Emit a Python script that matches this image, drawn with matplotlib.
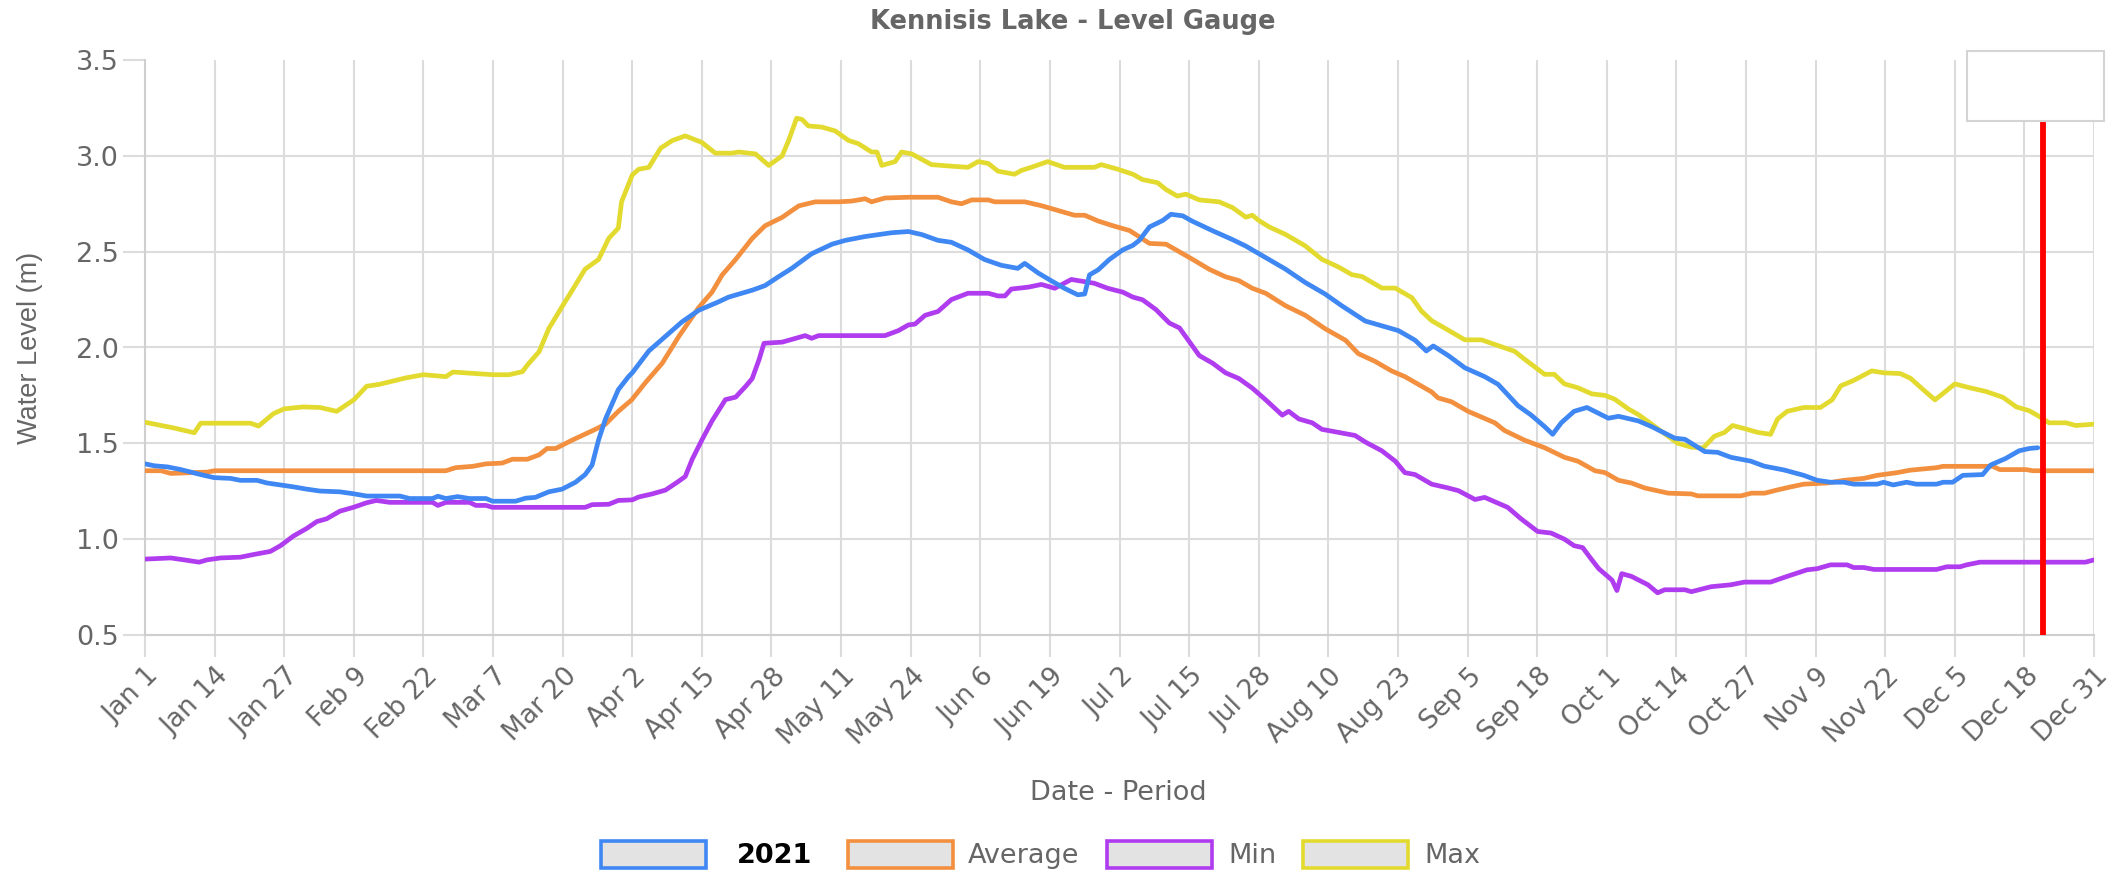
import matplotlib
matplotlib.use("Agg")
import matplotlib.pyplot as plt
import matplotlib.transforms as mtransforms
from matplotlib.patches import Rectangle
import numpy as np
import datetime as dt

# ---------------- data (day offset from Jan 1, water level in m) ----------------
tick_labels = ["Jan 1", "Jan 14", "Jan 27", "Feb 9", "Feb 22", "Mar 7", "Mar 20",
               "Apr 2", "Apr 15", "Apr 28", "May 11", "May 24", "Jun 6", "Jun 19",
               "Jul 2", "Jul 15", "Jul 28", "Aug 10", "Aug 23", "Sep 5", "Sep 18",
               "Oct 1", "Oct 14", "Oct 27", "Nov 9", "Nov 22", "Dec 5", "Dec 18",
               "Dec 31"]
y_ticks = [0.5, 1.0, 1.5, 2.0, 2.5, 3.0, 3.5]

max_day = [0, 5.4, 8.5, 9.2, 10.4, 13, 19.7, 21.2, 24, 26, 29.6, 32.7, 35.8, 39,
           41.4, 43.8, 48.8, 52, 56.2, 57.5, 65, 68, 70.5, 71.4, 73.6, 75.4, 78,
           79.8, 82.2, 84.7, 86.6, 88.4, 89, 91, 92.2, 94.1, 96.3, 98.5, 100.9,
           104, 106.5, 109.6, 110.9, 114, 116.5, 119, 120.2, 121.7, 122.7, 123.9,
           126.4, 128.9, 131.4, 133.2, 135.7, 136.7, 137.6, 140.1, 141.3, 143.2,
           146.9, 150.6, 153.7, 155.6, 157.5, 159.3, 162.4, 163.7, 165.5, 168.6,
           171.7, 177.3, 178.6, 181.7, 184.5, 186.3, 189.1, 190.7, 192.8, 194.4,
           196.9, 200.6, 203.1, 205.6, 206.8, 208, 209.9, 213, 216.7, 219.8,
           222.9, 225.4, 227.3, 231, 233.5, 236.6, 238.4, 240.3, 242.8, 246.5,
           249.6, 252.7, 255.8, 257.6, 259.5, 261.4, 263.2, 265.1, 267.6, 270.2,
           272.7, 274.5, 277, 278.9, 281.4, 283.8, 286.3, 288.8, 291, 293.1, 295,
           296.5, 298.7, 301.2, 303.6, 304.9, 306.7, 309.8, 312.9, 315.1, 316.7,
           319.1, 322.5, 324.7, 327.8, 329.7, 332.1, 334.3, 335.8, 338, 340.8,
           343.9, 347, 349.5, 351.9, 353.8, 355.6, 358.8, 360.6, 364]
max_val = [1.61, 1.58, 1.56, 1.555, 1.605, 1.605, 1.605, 1.59, 1.655, 1.68, 1.69,
           1.687, 1.667, 1.727, 1.798, 1.808, 1.842, 1.858, 1.848, 1.872, 1.858,
           1.858, 1.874, 1.908, 1.978, 2.098, 2.218, 2.299, 2.409, 2.459, 2.569,
           2.623, 2.76, 2.9, 2.93, 2.94, 3.04, 3.08, 3.104, 3.07, 3.014, 3.014,
           3.02, 3.01, 2.95, 3.0, 3.08, 3.196, 3.19, 3.156, 3.15, 3.13, 3.08,
           3.064, 3.02, 3.02, 2.95, 2.97, 3.02, 3.01, 2.954, 2.946, 2.94, 2.97,
           2.96, 2.92, 2.904, 2.924, 2.94, 2.97, 2.94, 2.94, 2.954, 2.93, 2.904,
           2.876, 2.86, 2.824, 2.79, 2.80, 2.77, 2.76, 2.73, 2.68, 2.69, 2.663,
           2.63, 2.59, 2.53, 2.46, 2.42, 2.38, 2.37, 2.31, 2.31, 2.26, 2.19, 2.14,
           2.10, 2.04, 2.04, 2.01, 1.98, 1.94, 1.90, 1.86, 1.86, 1.81, 1.79, 1.758,
           1.75, 1.73, 1.68, 1.65, 1.60, 1.55, 1.50, 1.48, 1.476, 1.537, 1.557,
           1.593, 1.577, 1.557, 1.547, 1.627, 1.667, 1.687, 1.687, 1.727, 1.80,
           1.828, 1.878, 1.868, 1.864, 1.84, 1.78, 1.727, 1.76, 1.81, 1.79, 1.77,
           1.74, 1.69, 1.67, 1.64, 1.607, 1.607, 1.593, 1.60]

avg_day = [0, 3, 4.8, 11.6, 13, 56.2, 58, 61.2, 63.7, 66.7, 68.6, 71.4, 73.6, 75.1,
           76.7, 79.8, 84.1, 86, 88.4, 90.9, 93.5, 96.6, 99.7, 103.4, 105.9,
           107.8, 110.3, 113.4, 115.8, 119, 122.1, 125.2, 129.5, 132, 134.5, 135.7,
           138.2, 142.6, 148.1, 150.6, 152.5, 154.4, 157.5, 158.7, 164.3, 167.4,
           170.5, 173.6, 175.5, 178, 180.8, 183.9, 187.6, 190.7, 193.2, 195.7,
           198.7, 201.8, 204.3, 206.8, 209.3, 213, 216.7, 220.4, 224.2, 226.6,
           229.7, 232.8, 235.3, 237.8, 240.3, 241.5, 244, 247.1, 249.6, 252.1,
           253.9, 257.6, 261.4, 265.1, 267.6, 270.8, 272.7, 275.2, 277.6, 280.1,
           284.5, 288.8, 290, 298.1, 300, 302.5, 304.9, 307.4, 309.8, 314.2, 317.3,
           321, 323.5, 327.2, 329.7, 334.6, 335.8, 345.1, 346.4, 351.3, 352.6, 364]
avg_val = [1.357, 1.357, 1.343, 1.35, 1.357, 1.357, 1.373, 1.38, 1.393, 1.397,
           1.417, 1.417, 1.44, 1.473, 1.473, 1.517, 1.573, 1.60, 1.667, 1.727,
           1.818, 1.918, 2.058, 2.208, 2.289, 2.379, 2.459, 2.569, 2.635, 2.679,
           2.739, 2.76, 2.76, 2.764, 2.776, 2.76, 2.78, 2.784, 2.784, 2.76, 2.75,
           2.77, 2.77, 2.76, 2.76, 2.74, 2.715, 2.69, 2.69, 2.66, 2.635, 2.61,
           2.543, 2.539, 2.499, 2.459, 2.409, 2.369, 2.349, 2.309, 2.283, 2.218,
           2.168, 2.098, 2.038, 1.968, 1.928, 1.878, 1.848, 1.808, 1.768, 1.737,
           1.717, 1.667, 1.637, 1.607, 1.567, 1.517, 1.477, 1.427, 1.407, 1.357,
           1.347, 1.307, 1.293, 1.267, 1.24, 1.236, 1.226, 1.226, 1.24, 1.24,
           1.257, 1.273, 1.287, 1.293, 1.307, 1.317, 1.333, 1.347, 1.36, 1.373,
           1.38, 1.38, 1.363, 1.363, 1.357, 1.357]

min_day = [0, 4.8, 7.3, 10.1, 11.6, 14.1, 17.8, 20.3, 23.4, 25.3, 27.7, 30.2, 32.1,
           33.9, 36.4, 38.9, 41.4, 43.2, 45.7, 53.7, 54.7, 56.2, 60.6, 61.8, 63.7,
           64.9, 82.2, 83.5, 86.6, 88.4, 91, 92.2, 94.7, 97.2, 99.4, 100.9, 102.2,
           104, 105.9, 108.4, 110.3, 112.2, 113.4, 114.7, 115.6, 119, 121.5,
           123.3, 124.5, 125.8, 138.2, 140.7, 142.6, 143.8, 145.7, 148.1, 150.6,
           153.7, 157.5, 159.3, 160.6, 161.8, 165, 167.4, 169.9, 173, 177.3,
           179.8, 182.6, 184.5, 186.3, 188.8, 191.3, 193.2, 196.9, 199.4, 201.8,
           204.3, 206.8, 209.3, 212.4, 213.6, 215.5, 218, 219.8, 222.9, 226,
           227.9, 231, 233.5, 235.3, 237.2, 240.3, 243.4, 245.3, 248.4, 250.2,
           254.5, 257, 260.1, 262.6, 265.1, 266.9, 268.5, 270, 271.5, 274, 274.9,
           275.8, 277.6, 280.7, 282.5, 283.8, 287.6, 288.8, 292.5, 296.2, 298.7,
           303.6, 306.7, 310.4, 312.3, 314.8, 317.9, 319.1, 321, 322.9, 334.6,
           336.5, 339, 340.2, 342.7, 362.4, 364]
min_val = [0.896, 0.902, 0.892, 0.88, 0.892, 0.902, 0.906, 0.92, 0.936, 0.966,
           1.016, 1.056, 1.092, 1.106, 1.146, 1.166, 1.19, 1.202, 1.192, 1.192,
           1.176, 1.192, 1.192, 1.176, 1.176, 1.166, 1.166, 1.18, 1.182, 1.202,
           1.205, 1.22, 1.236, 1.256, 1.297, 1.327, 1.417, 1.517, 1.617, 1.728,
           1.741, 1.798, 1.838, 1.938, 2.022, 2.028, 2.048, 2.062, 2.048, 2.062,
           2.062, 2.088, 2.118, 2.122, 2.168, 2.188, 2.25, 2.283, 2.283, 2.269,
           2.269, 2.305, 2.315, 2.329, 2.309, 2.355, 2.335, 2.309, 2.289, 2.263,
           2.249, 2.198, 2.128, 2.102, 1.958, 1.918, 1.868, 1.838, 1.788, 1.727,
           1.647, 1.667, 1.627, 1.607, 1.573, 1.557, 1.541, 1.507, 1.461, 1.407,
           1.347, 1.337, 1.287, 1.267, 1.253, 1.207, 1.218, 1.166, 1.106, 1.04,
           1.032, 1.0, 0.966, 0.956, 0.90, 0.846, 0.786, 0.732, 0.82, 0.806,
           0.762, 0.72, 0.736, 0.736, 0.726, 0.752, 0.762, 0.776, 0.776, 0.806,
           0.84, 0.846, 0.866, 0.866, 0.852, 0.852, 0.842, 0.842, 0.856, 0.856,
           0.866, 0.88, 0.88, 0.892]

cur_day = [0, 1.7, 4.2, 6.7, 10.4, 12.9, 16, 17.8, 20.9, 22.8, 25.3, 27.7, 30.2,
           32.7, 36.4, 38.9, 41.4, 47.6, 49.4, 53.7, 54.7, 56.2, 58.4, 60.6, 63.7,
           64.9, 69.2, 71.1, 72.9, 75.4, 77.9, 80.4, 82.2, 83.5, 84.7, 86, 88.4,
           90.3, 91, 94.1, 97.2, 100.3, 103.4, 107.1, 109, 113.4, 115.8, 118.3,
           120.8, 124.5, 128.3, 130.8, 134.5, 137, 139.5, 142.6, 145.1, 148.1,
           150.6, 153.7, 156.8, 159.9, 163, 164.3, 166.8, 169.2, 171.7, 174.2,
           175.5, 176.4, 178, 180.1, 182.6, 184.5, 185.7, 187.6, 190.1, 191.6,
           193.8, 195.6, 199.4, 203.1, 205.6, 209.3, 213, 216.7, 220.4, 223.5,
           227.9, 230.4, 234.1, 237.2, 239.3, 240.6, 243.4, 246.5, 250.2, 252.7,
           256.4, 258.9, 261.4, 262.9, 264.5, 266.9, 269.3, 273.3, 275.2, 278.9,
           281.4, 285.7, 287.6, 291.3, 293.7, 296.2, 299.9, 302.4, 306.1, 309.8,
           312.3, 314.8, 317.3, 319.1, 323.5, 324.7, 326.5, 329, 330.8, 334.6,
           335.8, 337.6, 339.5, 343.2, 344.7, 347.5, 350, 351.9, 353.5]
cur_val = [1.393, 1.383, 1.377, 1.363, 1.337, 1.321, 1.317, 1.307, 1.307, 1.293,
           1.283, 1.273, 1.261, 1.251, 1.247, 1.237, 1.225, 1.225, 1.212, 1.212,
           1.224, 1.212, 1.222, 1.212, 1.212, 1.198, 1.198, 1.214, 1.218, 1.247,
           1.261, 1.297, 1.337, 1.387, 1.517, 1.627, 1.78, 1.848, 1.868, 1.982,
           2.058, 2.134, 2.194, 2.238, 2.263, 2.299, 2.323, 2.369, 2.413, 2.489,
           2.539, 2.559, 2.579, 2.589, 2.599, 2.605, 2.589, 2.559, 2.549, 2.509,
           2.459, 2.429, 2.413, 2.439, 2.389, 2.349, 2.309, 2.275, 2.279, 2.379,
           2.405, 2.459, 2.509, 2.533, 2.559, 2.629, 2.663, 2.695, 2.687, 2.659,
           2.609, 2.563, 2.529, 2.469, 2.409, 2.339, 2.279, 2.218, 2.138, 2.118,
           2.088, 2.038, 1.982, 2.008, 1.958, 1.894, 1.848, 1.808, 1.697, 1.647,
           1.587, 1.547, 1.607, 1.667, 1.687, 1.631, 1.641, 1.617, 1.587, 1.527,
           1.521, 1.457, 1.453, 1.427, 1.407, 1.381, 1.361, 1.333, 1.307, 1.297,
           1.297, 1.287, 1.287, 1.297, 1.283, 1.297, 1.287, 1.287, 1.297, 1.297,
           1.333, 1.337, 1.387, 1.421, 1.461, 1.473, 1.477]

today_day = 354.5
series_names = ["2021", "Average", "Min", "Max"]
series_colors = ["#3f87f3", "#f2903f", "#b03cf0", "#e3da30"]

# ---------------- figure ----------------
plt.rcParams['font.family'] = ['DejaVu Sans']
W, H = 2123, 873
fig = plt.figure(figsize=(W / 100, H / 100), dpi=100)
fig.patch.set_facecolor("white")

def fx(px):
    return px / W

def fy(py):
    return 1 - py / H

ax = fig.add_axes([fx(145), fy(635), fx(2094) - fx(145), fy(60) - fy(635)])

grid_c = "#dcdcdc"
text_c = "#666666"
LW = 3.4

ax.plot(max_day, max_val, color=series_colors[3], lw=LW, zorder=3,
        solid_joinstyle="round", solid_capstyle="round")
ax.plot(min_day, min_val, color=series_colors[2], lw=LW, zorder=4,
        solid_joinstyle="round", solid_capstyle="round")
ax.plot(avg_day, avg_val, color=series_colors[1], lw=LW, zorder=5,
        solid_joinstyle="round", solid_capstyle="round")
ax.plot(cur_day, cur_val, color=series_colors[0], lw=LW, zorder=6,
        solid_joinstyle="round", solid_capstyle="round")

ax.vlines(today_day, 0.5, 3.5, color="red", lw=4.2, zorder=7)

# axes & ticks
year0 = dt.date(2021, 1, 1)
tick_pos = [(dt.datetime.strptime(s + " 2021", "%b %d %Y").date() - year0).days for s in tick_labels]
ax.set_xlim(0, tick_pos[-1])
ax.set_ylim(0.5, 3.5)
ax.set_xticks(tick_pos)
ax.set_xticklabels(tick_labels, rotation=45, ha="right", va="center",
                   rotation_mode="anchor", fontsize=19, color=text_c)
ax.set_yticks(y_ticks)
ax.set_yticklabels([f"{v:.1f}" for v in y_ticks], fontsize=19.5, color=text_c)
ax.tick_params(axis="x", length=16, width=1.5, color=grid_c, pad=11)
ax.tick_params(axis="y", length=16, width=1.5, color=grid_c, pad=3)

offset = mtransforms.ScaledTranslation(0.10, 0, fig.dpi_scale_trans)
for lab in ax.get_xticklabels():
    lab.set_transform(lab.get_transform() + offset)

ax.grid(axis="x", color=grid_c, lw=1.5, zorder=0)
for v in y_ticks[:-1]:
    ax.axhline(v, color=grid_c, lw=1.5, zorder=0)
for s in ["top", "right"]:
    ax.spines[s].set_visible(False)
ax.spines["left"].set_color("#cfcfcf")
ax.spines["bottom"].set_color("#cfcfcf")
ax.spines["left"].set_linewidth(1.5)
ax.spines["bottom"].set_linewidth(1.5)
ax.set_axisbelow(True)

# titles
fig.text(fx(1073), fy(22), "Kennisis Lake - Level Gauge", ha="center", va="center",
         fontsize=18.5, fontweight="bold", color=text_c)
fig.text(fx(1118), fy(793), "Date - Period", ha="center", va="center",
         fontsize=19.5, color=text_c)
fig.text(fx(30), fy(348), "Water Level (m)", ha="center", va="center", rotation=90,
         fontsize=19.5, color=text_c, family=["Liberation Sans", "DejaVu Sans"])

# tooltip-like white box at top right
fig.patches.append(Rectangle((fx(1967), fy(121)), fx(2104) - fx(1967), fy(51) - fy(121),
                             transform=fig.transFigure, facecolor="white",
                             edgecolor="#d4d4d4", lw=1.5, zorder=10))

# legend
box_x = [601, 848, 1107, 1303]
text_x = [737, 968, 1228, 1424]
for name, col, bx, tx in zip(series_names, series_colors, box_x, text_x):
    fig.patches.append(Rectangle((fx(bx), fy(868)), fx(bx + 105) - fx(bx), fy(841) - fy(868),
                                 transform=fig.transFigure, facecolor="#e3e3e3",
                                 edgecolor=col, lw=2.6, zorder=10))
    if name == "2021":
        fig.text(fx(tx), fy(856), name, ha="left", va="center", fontsize=19.5,
                 fontweight="bold", color="black")
    else:
        fig.text(fx(tx), fy(856), name, ha="left", va="center", fontsize=19.5,
                 color=text_c)

fig.savefig("out.png", dpi=100, facecolor="white")
